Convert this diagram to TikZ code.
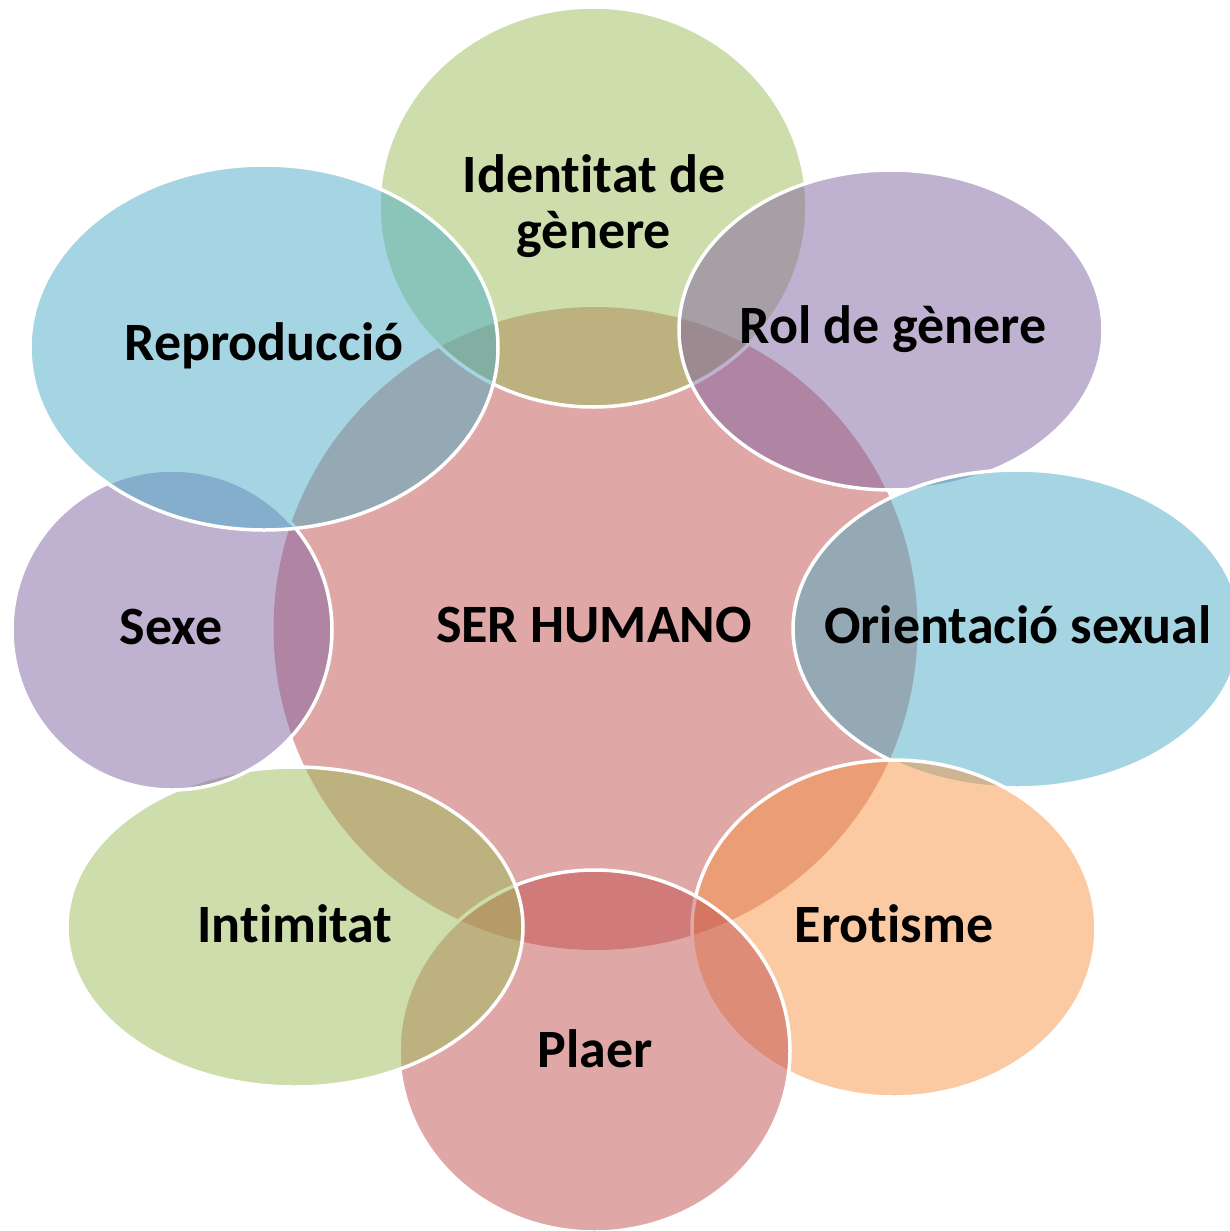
\documentclass[tikz,border=0pt]{standalone}
\usepackage{fontspec}
\setmainfont[Ligatures=NoCommon]{Carlito}
\usepackage{tikz}
\usetikzlibrary{shapes.geometric}
\definecolor{green}{RGB}{155,187,89}
\definecolor{purple}{RGB}{128,100,162}
\definecolor{blue}{RGB}{75,172,198}
\definecolor{orange}{RGB}{247,150,70}
\definecolor{red}{RGB}{192,80,77}

\begin{document}
\begin{tikzpicture}[x=1pt, y=-1pt,
core/.style={ellipse, inner sep=0pt, fill=#1, fill opacity=0.5},
bubble/.style={ellipse, inner sep=0pt, draw=white, line width=3.5pt, fill=#1, fill opacity=0.5},
txt/.style={font=\fontsize{54}{56}\selectfont\bfseries, text=black, align=center, anchor=base}]
\useasboundingbox (0,0) rectangle (1229,1231);

% centre
\node [core=red, minimum width=644, minimum height=643] (ser) at (595.5,628.5) {};

% outer ring, clockwise from the top
\node [bubble=green, minimum width=428, minimum height=400] (identitat) at (593,207) {};
\node [bubble=purple, minimum width=424, minimum height=320] (rol) at (891,330) {};
\node [bubble=blue, minimum width=448, minimum height=318] (orientacio) at (1017,629) {};
\node [bubble=orange, minimum width=404, minimum height=337] (erotisme) at (894,928.5) {};
\node [bubble=red, minimum width=391, minimum height=362] (plaer) at (594.5,1051) {};
\node [bubble=green, minimum width=456, minimum height=320] (intimitat) at (295,927) {};
\node [bubble=purple, minimum width=320, minimum height=320] (sexe) at (172,630) {};
\node [bubble=blue, minimum width=468, minimum height=365] (reproduccio) at (264,347.5) {};

% labels (base = last line)
\node [txt] (tser) at (594,642) {SER HUMANO};
\node [txt] (tidentitat) at (594,248) {Identitat de\\gènere};
\node [txt] (trol) at (893,343) {Rol de gènere};
\node [txt] (torientacio) at (1018,643) {Orientació sexual};
\node [txt] (terotisme) at (894,942) {Erotisme};
\node [txt] (tplaer) at (595,1067) {Plaer};
\node [txt] (tintimitat) at (295,942) {Intimitat};
\node [txt] (tsexe) at (171,644) {Sexe};
\node [txt] (treproduccio) at (264,360) {Reproducció};

\end{tikzpicture}
\end{document}
